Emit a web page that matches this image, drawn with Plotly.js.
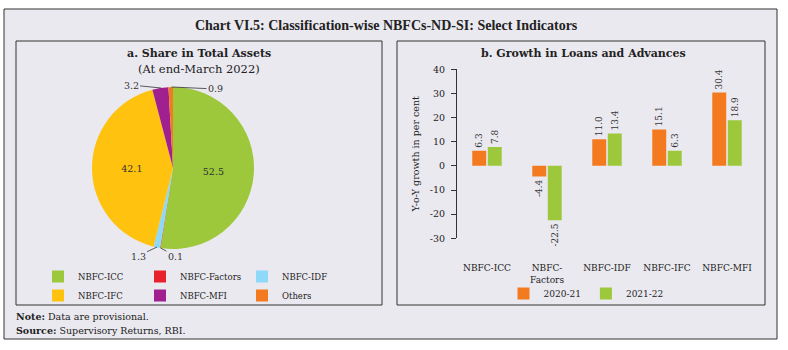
<!DOCTYPE html>
<html>
<head>
<meta charset="utf-8">
<script src="https://cdn.plot.ly/plotly-3.0.1.min.js"></script>
<style>html,body{margin:0;padding:0;background:#fff;}#chart{width:788px;height:350px;}</style>
</head>
<body>
<div id="chart"></div>
<script>
// ---- data ----
var pieLabels = ["NBFC-ICC", "NBFC-Factors", "NBFC-IDF", "NBFC-IFC", "NBFC-MFI", "Others"];
var pieShares = [52.5, 0.1, 1.3, 42.1, 3.2, 0.9];
var pieColors = ["#9dc83c", "#e8212b", "#8ed8f8", "#ffc20e", "#a0208f", "#f47a20"];

var barCategories = ["NBFC-ICC", "NBFC-<br>Factors", "NBFC-IDF", "NBFC-IFC", "NBFC-MFI"];
var growth2021 = [6.3, -4.4, 11.0, 15.1, 30.4];
var growth2122 = [7.8, -22.5, 13.4, 6.3, 18.9];
var seriesNames = ["2020-21", "2021-22"];
var barColors = ["#f47a20", "#9dc83c"];
var yRange = [-30, 40];
var yTicks = [-30, -20, -10, 0, 10, 20, 30, 40];

// ---- geometry helpers (pixel -> paper) ----
var W = 788, H = 350;
var M = {l: 45, r: 25, t: 20, b: 20};
var PW = W - M.l - M.r, PH = H - M.t - M.b;
function xp(px) { return (px - M.l) / PW; }
function yp(py) { return 1 - (py - M.t) / PH; }

var FONT = "DejaVu Serif";
var TXT = "#222";

var yDom = [yp(238.3), yp(69.3)];
var zeroPos = yDom[0] + (0 - yRange[0]) / (yRange[1] - yRange[0]) * (yDom[1] - yDom[0]);
var xDom = [xp(457), xp(757)];

var pieTrace = {
  type: "pie",
  labels: pieLabels,
  values: pieShares,
  sort: false,
  direction: "clockwise",
  rotation: 0,
  marker: {colors: pieColors, line: {width: 0}},
  domain: {x: [xp(92), xp(254)], y: [yp(249), yp(87)]},
  texttemplate: pieShares.map(function (v) { return v >= 10 ? v.toFixed(1) : ""; }),
  textinfo: "text",
  textposition: "inside",
  insidetextorientation: "horizontal",
  textfont: {family: FONT, size: 9.5, color: "#333"},
  hoverinfo: "label+value",
  legend: "legend"
};

function barTrace(name, vals, color) {
  return {
    type: "bar", name: name, x: barCategories, y: vals,
    marker: {color: color},
    text: vals.map(function (v) { return v.toFixed(1); }),
    textposition: "outside", textangle: -90, cliponaxis: false, constraintext: "none",
    textfont: {family: FONT, size: 9, color: "#333"},
    xaxis: "x", yaxis: "y", legend: "legend2"
  };
}
var bar1 = barTrace(seriesNames[0], growth2021, barColors[0]);
var bar2 = barTrace(seriesNames[1], growth2122, barColors[1]);

// small-slice labels with leader lines (values come from the data array)
function smallLabel(i, px, py, ax, ay) {
  return {
    xref: "paper", yref: "paper", x: xp(px), y: yp(py),
    text: pieShares[i].toFixed(1), showarrow: true, arrowhead: 0,
    arrowwidth: 0.8, arrowcolor: "#333", ax: ax, ay: ay,
    font: {family: FONT, size: 9.5, color: "#333"}
  };
}
function txt(px, py, text, font, xanchor) {
  return {xref: "paper", yref: "paper", x: xp(px), y: yp(py), text: text,
          xanchor: xanchor || "center", yanchor: "middle", showarrow: false, font: font};
}

var annotations = [
  txt(199, 54, "<b>a. Share in Total Assets</b>", {family: FONT, size: 11, color: TXT}),
  txt(199, 69, "(At end-March 2022)", {family: FONT, size: 11.5, color: TXT}),
  txt(583, 54, "<b>b. Growth in Loans and Advances</b>", {family: FONT, size: 11, color: TXT}),
  txt(14, 316, "<b>Note:</b> Data are provisional.", {family: FONT, size: 9.5, color: TXT}, "left"),
  txt(14, 330, "<b>Source:</b> Supervisory Returns, RBI.", {family: FONT, size: 9.5, color: TXT}, "left"),
  smallLabel(4, 161, 88, -30, -3),
  smallLabel(5, 171.5, 87, 44, 2),
  smallLabel(2, 157, 247, -19, 9),
  smallLabel(1, 160.5, 248, 15, 8)
];

var shapes = [
  {type: "rect", xref: "paper", yref: "paper", layer: "below",
   x0: xp(4), x1: xp(777), y0: yp(339), y1: yp(9),
   fillcolor: "#eae9ef", line: {color: "#333", width: 1}},
  {type: "rect", xref: "paper", yref: "paper", layer: "below",
   x0: xp(16), x1: xp(382), y0: yp(305), y1: yp(41),
   line: {color: "#333", width: 1}},
  {type: "rect", xref: "paper", yref: "paper", layer: "below",
   x0: xp(397), x1: xp(765), y0: yp(305), y1: yp(41),
   line: {color: "#333", width: 1}}
];

var layout = {
  width: W, height: H,
  margin: {l: M.l, r: M.r, t: M.t, b: M.b, autoexpand: false},
  paper_bgcolor: "#ffffff",
  plot_bgcolor: "rgba(0,0,0,0)",
  font: {family: FONT, size: 9, color: TXT},
  title: {text: "<b>Chart VI.5: Classification-wise NBFCs-ND-SI: Select Indicators</b>",
          font: {family: "Liberation Serif", size: 14, color: TXT},
          x: 0.49, xanchor: "center", y: 1 - 25 / H, yanchor: "middle"},
  barmode: "group", bargap: 0.483, bargroupgap: 0.1,
  showlegend: true,
  legend: {orientation: "h", x: xp(38), xanchor: "left", y: yp(262), yanchor: "top",
           entrywidth: 57, entrywidthmode: "pixels", bgcolor: "rgba(0,0,0,0)",
           font: {family: FONT, size: 8.5, color: TXT}, traceorder: "normal"},
  legend2: {orientation: "h", x: xp(586), xanchor: "center", y: yp(279), yanchor: "top",
            bgcolor: "rgba(0,0,0,0)", font: {family: FONT, size: 9, color: TXT}},
  xaxis: {domain: xDom, type: "category", anchor: "free", position: yp(261),
          showline: false, ticks: "", showgrid: false, zeroline: false,
          tickfont: {family: FONT, size: 9, color: TXT}, fixedrange: true},
  xaxis2: {domain: xDom, overlaying: "x", type: "linear", range: [-0.5, 4.5],
           anchor: "free", position: zeroPos, showline: true, linecolor: "#333", linewidth: 1,
           ticks: "outside", ticklen: 5, tickcolor: "#333",
           tickvals: [0.5, 1.5, 2.5, 3.5, 4.5], showticklabels: false,
           showgrid: false, zeroline: false, fixedrange: true},
  yaxis: {domain: yDom, range: yRange, anchor: "x",
          tickvals: yTicks, ticktext: yTicks.map(String),
          showline: true, linecolor: "#333", linewidth: 1, ticks: "outside", ticklen: 5, tickcolor: "#333",
          showgrid: false, zeroline: false, ticklabelstandoff: 4,
          tickfont: {family: FONT, size: 9.5, color: TXT},
          title: {text: "Y-o-Y growth in per cent", standoff: 8, font: {family: FONT, size: 9.5, color: TXT}},
          fixedrange: true},
  annotations: annotations,
  shapes: shapes
};

Plotly.newPlot("chart", [pieTrace, bar1, bar2], layout, {displayModeBar: false, staticPlot: true});
</script>
</body>
</html>
